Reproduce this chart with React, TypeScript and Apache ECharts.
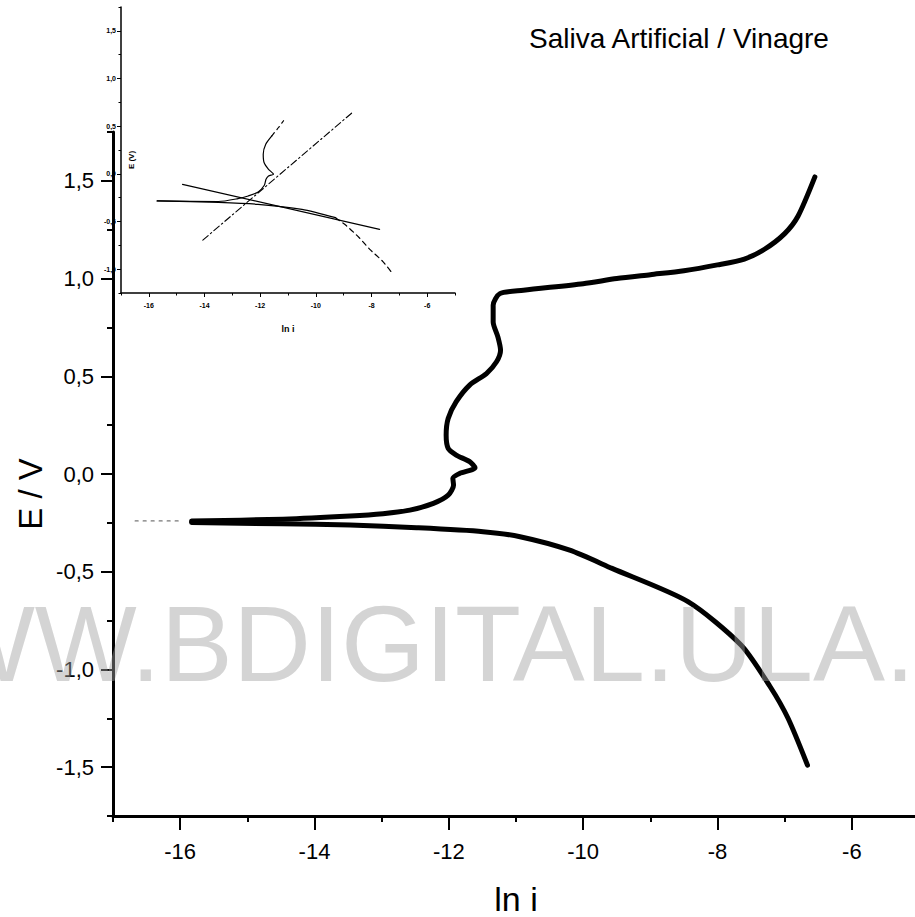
import React, { useEffect, useRef } from "react";
import * as echarts from "echarts";

const titleText = "Saliva Artificial / Vinagre";
const watermarkText = "WWW.BDIGITAL.ULA.VE";
const xName = "ln i";
const yName = "E / V";
const insetXName = "ln i";
const insetYName = "E (V)";

const xMajorTicks = [-16, -14, -12, -10, -8, -6];
const xMinorTicks = [-17, -15, -13, -11, -9, -7, -5];
const yMajorTicks = [-1.5, -1, -0.5, 0, 0.5, 1, 1.5];
const yMinorTicks = [-1.75, -1.25, -0.75, -0.25, 0.25, 0.75, 1.25, 1.75];
const insetYMajorTicks = [-1, -0.5, 0, 0.5, 1, 1.5];
const insetYMinorTicks = [-1.25, -0.75, -0.25, 0.25, 0.75, 1.25, 1.75];

// main curve, anodic branch (ln i, E)
const anodicLnI = [-15.83, -14.47, -13.47, -12.98, -12.58, -12.23, -12.01, -11.93, -11.94, -11.84, -11.61, -11.69, -11.89, -12.01, -12.04, -12.01, -11.89, -11.69, -11.44, -11.29, -11.23, -11.27, -11.34, -11.34, -11.24, -10.89, -10.0, -9.5, -9.0, -8.5, -8.0, -7.6, -7.3, -7.0, -6.8, -6.55];
const anodicE = [-0.241, -0.231, -0.215, -0.203, -0.185, -0.15, -0.108, -0.057, -0.022, 0.003, 0.032, 0.063, 0.097, 0.131, 0.199, 0.284, 0.37, 0.455, 0.514, 0.574, 0.633, 0.702, 0.778, 0.864, 0.923, 0.94, 0.974, 1.0, 1.02, 1.04, 1.07, 1.1, 1.15, 1.23, 1.32, 1.52];

// main curve, cathodic branch
const cathodicLnI = [-15.83, -14.5, -13.47, -12.48, -11.49, -10.94, -10.2, -9.57, -8.44, -7.65, -7.22, -6.95, -6.66];
const cathodicE = [-0.248, -0.255, -0.261, -0.275, -0.295, -0.321, -0.39, -0.483, -0.653, -0.875, -1.086, -1.25, -1.49];

// faint dotted lead-in at the left
const leadLnI = [-16.67, -16.0];
const leadE = [-0.24, -0.24];

// inset: polarization curve
const insetAnodicLnI = [-15.7, -13.5, -12.8, -12.43, -12.07, -11.85, -11.79, -11.7, -11.52, -11.7, -11.86, -11.89, -11.8, -11.58];
const insetAnodicE = [-0.284, -0.29, -0.26, -0.232, -0.19, -0.12, -0.057, -0.022, -0.004, 0.048, 0.119, 0.206, 0.311, 0.399];
const insetAnodicTailLnI = [-11.58, -11.34, -11.16];
const insetAnodicTailE = [0.399, 0.486, 0.557];
const insetCathodicLnI = [-15.7, -13.5, -12.08, -10.5, -9.29];
const insetCathodicE = [-0.284, -0.3, -0.32, -0.373, -0.46];
const insetCathodicTailLnI = [-9.29, -8.92, -8.44, -8.07, -7.59, -7.29];
const insetCathodicTailE = [-0.46, -0.54, -0.67, -0.79, -0.92, -1.03];
// inset: Tafel lines
const tafelCathodicLnI = [-14.79, -7.71];
const tafelCathodicE = [-0.11, -0.583];
const tafelAnodicLnI = [-14.06, -8.68];
const tafelAnodicE = [-0.695, 0.645];

const zip = (a: number[], b: number[]) => a.map((v, i) => [v, b[i]]);
const font = "'Liberation Sans', Arial, Helvetica, sans-serif";
const fmtE = (v: number) => v.toFixed(1).replace(".", ",");

export default function App() {
  const ref = useRef<HTMLDivElement>(null);
  useEffect(() => {
    if (!ref.current) return;
    const chart = echarts.init(ref.current, null, { renderer: "svg" });

    const mkX = (grid: number, major: boolean, inset: boolean) => ({
      type: "value",
      gridIndex: grid,
      position: "bottom",
      offset: 0,
      min: -17,
      max: -5,
      splitLine: { show: false },
      axisLine: { show: major, onZero: false, lineStyle: { color: "#000", width: inset ? 1.5 : 3 } },
      axisTick: {
        show: true,
        inside: false,
        customValues: major ? xMajorTicks : xMinorTicks,
        length: inset ? (major ? 4 : 2.5) : major ? 14 : 6,
        lineStyle: { color: "#000", width: inset ? 1 : 2 },
      },
      axisLabel: {
        show: major,
        customValues: xMajorTicks,
        color: "#000",
        fontFamily: font,
        fontSize: inset ? 7 : 22,
        fontWeight: inset ? "bold" : "normal",
        margin: inset ? 9 : 24,
        formatter: (v: number) => String(v),
      },
      name: major ? (inset ? insetXName : xName) : "",
      nameLocation: "middle",
      nameGap: inset ? 31 : 66,
      nameTextStyle: {
        color: "#000",
        fontFamily: font,
        fontSize: inset ? 9 : 34,
        fontWeight: inset ? "bold" : "normal",
      },
    });

    const mkY = (grid: number, major: boolean, inset: boolean) => ({
      type: "value",
      gridIndex: grid,
      position: "left",
      offset: 0,
      min: inset ? -1.25 : -1.75,
      max: 1.75,
      splitLine: { show: false },
      axisLine: { show: major, onZero: false, lineStyle: { color: "#000", width: inset ? 1.5 : 3 } },
      axisTick: {
        show: true,
        inside: false,
        customValues: major
          ? inset ? insetYMajorTicks : yMajorTicks
          : inset ? insetYMinorTicks : yMinorTicks,
        length: inset ? (major ? 4 : 2.5) : major ? 12 : 6,
        lineStyle: { color: "#000", width: inset ? 1 : 2 },
      },
      axisLabel: {
        show: major,
        customValues: inset ? insetYMajorTicks : yMajorTicks,
        color: "#000",
        fontFamily: font,
        fontSize: inset ? 7 : 22,
        fontWeight: inset ? "bold" : "normal",
        margin: inset ? 5 : 19,
        formatter: fmtE,
      },
    });

    const line = (
      data: number[][],
      axis: number,
      width: number,
      type: any = "solid",
      color = "#000",
      smooth: number | boolean = 0.25
    ) => ({
      type: "line",
      xAxisIndex: axis,
      yAxisIndex: axis,
      data,
      showSymbol: false,
      symbol: "none",
      smooth,
      lineStyle: { color, width, type, cap: "round", join: "round" },
      silent: true,
    });

    const option: any = {
      animation: false,
      backgroundColor: "#fff",
      grid: [
        { left: 113, top: 132, width: 806, height: 684, outerBoundsMode: "none", containLabel: false },
        { left: 121, top: 7, width: 334, height: 286, outerBoundsMode: "none", containLabel: false },
      ],
      xAxis: [mkX(0, true, false), mkX(0, false, false), mkX(1, true, true), mkX(1, false, true)],
      yAxis: [mkY(0, true, false), mkY(0, false, false), mkY(1, true, true), mkY(1, false, true)],
      series: [
        line(zip(leadLnI, leadE), 0, 1.2, [3, 5], "#777", false),
        line(zip(cathodicLnI, cathodicE), 0, 5),
        line(zip(anodicLnI, anodicE), 0, 5),
        line(zip(insetAnodicLnI, insetAnodicE), 2, 1.2),
        line(zip(insetAnodicTailLnI, insetAnodicTailE), 2, 1.2, [4, 4]),
        line(zip(insetCathodicLnI, insetCathodicE), 2, 1.2),
        line(zip(insetCathodicTailLnI, insetCathodicTailE), 2, 1.2, [5, 4]),
        line(zip(tafelCathodicLnI, tafelCathodicE), 2, 1.2, "solid", "#000", false),
        line(zip(tafelAnodicLnI, tafelAnodicE), 2, 1.1, [7, 3, 1.5, 3], "#000", false),
      ],
      graphic: [
        {
          type: "text",
          x: 679,
          y: 38,
          z: 50,
          style: {
            text: titleText,
            font: `28px ${font}`,
            fill: "#000",
            textAlign: "center",
            align: "center",
            textVerticalAlign: "middle",
            verticalAlign: "middle",
          },
        },
        {
          type: "text",
          x: 30,
          y: 494,
          rotation: Math.PI / 2,
          z: 50,
          style: {
            text: yName,
            font: `33px ${font}`,
            fill: "#000",
            textAlign: "center",
            align: "center",
            textVerticalAlign: "middle",
            verticalAlign: "middle",
          },
        },
        {
          type: "text",
          x: 131,
          y: 160,
          rotation: Math.PI / 2,
          z: 50,
          style: {
            text: insetYName,
            font: `bold 8px ${font}`,
            fill: "#000",
            textAlign: "center",
            align: "center",
            textVerticalAlign: "middle",
            verticalAlign: "middle",
          },
        },
        {
          type: "text",
          x: -169,
          y: 643,
          z: 100,
          silent: true,
          style: {
            text: watermarkText,
            font: `108px ${font}`,
            fill: "rgba(160,160,160,0.45)",
            textAlign: "left",
            align: "left",
            textVerticalAlign: "middle",
            verticalAlign: "middle",
          },
        },
      ],
    };
    chart.setOption(option);
    return () => chart.dispose();
  }, []);
  return (
    <div
      ref={ref}
      style={{ position: "fixed", left: 0, top: 0, width: 915, height: 917, background: "#fff" }}
    />
  );
}
